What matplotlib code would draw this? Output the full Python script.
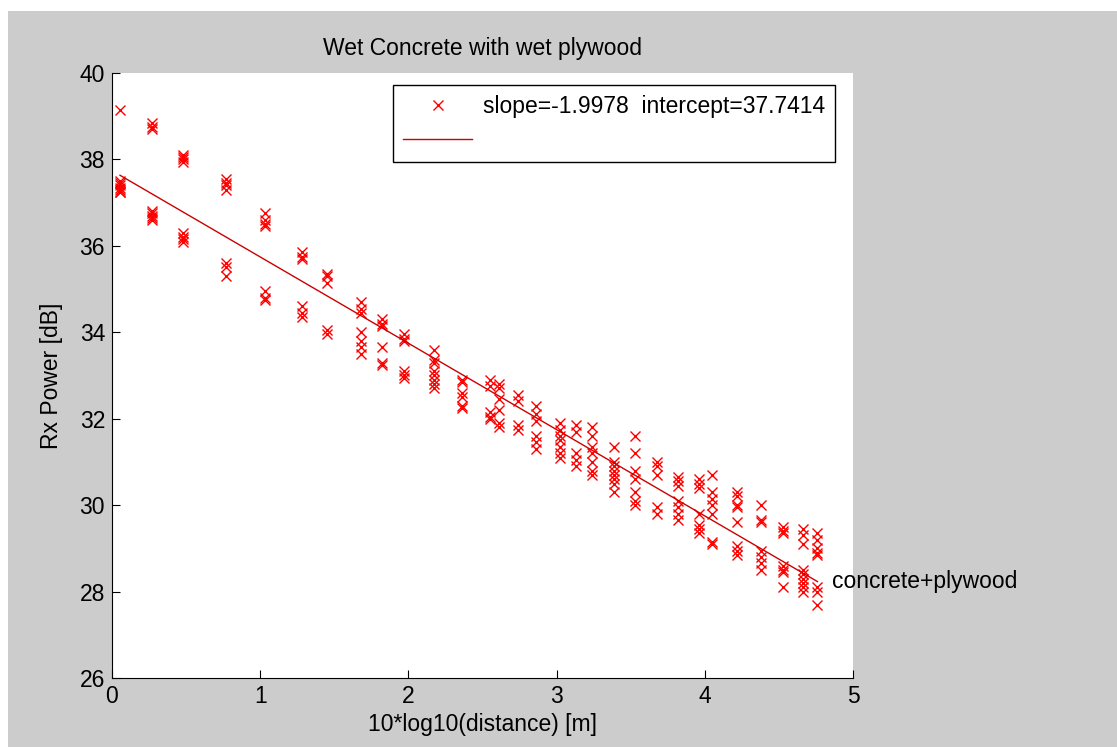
import numpy as np
import matplotlib
matplotlib.use("Agg")
import matplotlib.pyplot as plt
from matplotlib.patches import Rectangle

plt.rcParams['font.family'] = ['Liberation Sans', 'DejaVu Sans']

# distance columns (10*log10(d)) and the repeated Rx power readings at each
dist_x = [0.054, 0.27, 0.48, 0.77, 1.03, 1.28, 1.45, 1.68, 1.82, 1.97,
          2.17, 2.36, 2.55, 2.61, 2.74, 2.86, 3.02, 3.13, 3.24, 3.39,
          3.53, 3.68, 3.82, 3.96, 4.05, 4.22, 4.38, 4.53, 4.66, 4.76]
rx_power = [
    [39.15, 37.5, 37.45, 37.4, 37.35, 37.3, 37.25, 37.25],
    [38.85, 38.75, 38.7, 36.8, 36.75, 36.7, 36.65, 36.6],
    [38.1, 38.05, 38.0, 37.95, 36.3, 36.2, 36.15, 36.1],
    [37.55, 37.45, 37.4, 37.3, 35.6, 35.5, 35.3],
    [36.75, 36.6, 36.5, 36.45, 34.95, 34.8, 34.75],
    [35.85, 35.75, 35.7, 34.6, 34.45, 34.35],
    [35.35, 35.3, 35.15, 34.05, 33.95],
    [34.7, 34.55, 34.45, 34.0, 33.8, 33.65, 33.5],
    [34.3, 34.2, 34.15, 33.65, 33.3, 33.25],
    [33.95, 33.85, 33.8, 33.1, 33.0, 32.95],
    [33.6, 33.35, 33.3, 33.1, 33.0, 32.9, 32.8, 32.7],
    [32.9, 32.85, 32.6, 32.5, 32.3, 32.25],
    [32.9, 32.75, 32.15, 32.05, 32.0],
    [32.8, 32.7, 32.45, 32.2, 31.9, 31.8],
    [32.55, 32.4, 31.85, 31.75],
    [32.3, 32.1, 31.95, 31.6, 31.45, 31.3],
    [31.9, 31.75, 31.6, 31.5, 31.35, 31.2, 31.1],
    [31.85, 31.7, 31.2, 31.05, 30.9],
    [31.8, 31.6, 31.35, 31.2, 31.0, 30.8, 30.7],
    [31.35, 31.0, 30.9, 30.8, 30.7, 30.6, 30.5, 30.3],
    [31.6, 31.2, 30.8, 30.6, 30.3, 30.1, 30.0],
    [31.0, 30.9, 30.7, 29.95, 29.8],
    [30.65, 30.55, 30.45, 30.1, 29.95, 29.8, 29.65],
    [30.6, 30.5, 30.4, 29.8, 29.55, 29.45, 29.35],
    [30.7, 30.3, 30.15, 30.0, 29.8, 29.15, 29.1],
    [30.3, 30.2, 30.0, 29.95, 29.6, 29.05, 28.95, 28.85],
    [30.0, 29.65, 29.6, 28.95, 28.8, 28.65, 28.5],
    [29.5, 29.4, 29.35, 28.6, 28.5, 28.45, 28.1],
    [29.45, 29.3, 29.1, 28.5, 28.4, 28.3, 28.2, 28.1, 28.0],
    [29.35, 29.2, 29.0, 28.9, 28.85, 28.1, 28.0, 27.7],
]
slope = -1.9978
intercept = 37.7414

x = np.repeat(dist_x, [len(c) for c in rx_power])
y = np.concatenate(rx_power)
xfit = np.array([min(dist_x), max(dist_x)])
yfit = intercept + slope * xfit

fs = 16.5

fig = plt.figure(figsize=(11.17, 7.47), dpi=100, facecolor='white')
# matlab grey figure background (white strip at top/left as in the screenshot)
fig.patches.append(Rectangle((8/1117, 0), 1 - 8/1117, (747 - 11)/747,
                             transform=fig.transFigure, facecolor='#cccccc',
                             edgecolor='none', zorder=-10))

ax = fig.add_axes([112/1117, 69/747, 741/1117, 605/747])
ax.set_facecolor('white')

pts, = ax.plot(x, y, 'x', color='#ff0000', markersize=6.5, markeredgewidth=1.0)
ln, = ax.plot(xfit, yfit, '-', color='#cc0000', linewidth=1.0)

ax.set_xlim(0, 5)
ax.set_ylim(26, 40)
ax.set_xticks(range(0, 6))
ax.set_yticks(range(26, 41, 2))
ax.tick_params(direction='in', length=6, labelsize=fs, colors='black', pad=5)
for s in ['top', 'right']:
    ax.spines[s].set_visible(False)

ax.set_title('Wet Concrete with wet plywood', fontsize=fs, pad=13)
ax.set_xlabel('10*log10(distance) [m]', fontsize=fs, labelpad=4)
ax.set_ylabel('Rx Power [dB]', fontsize=fs, labelpad=12)

ax.text(4.86, 28.24, 'concrete+plywood', fontsize=fs, va='center', ha='left',
        clip_on=False)

leg = ax.legend([pts, ln], ['slope=-1.9978  intercept=37.7414', ''],
                loc='upper right', bbox_to_anchor=(0.9757, 0.980),
                fontsize=fs, numpoints=1, handlelength=3.0, handletextpad=0.45,
                labelspacing=0.45, borderpad=0.45, borderaxespad=0,
                fancybox=False, framealpha=1, edgecolor='black')
leg.get_frame().set_linewidth(1.0)

fig.savefig('out.png', dpi=100, facecolor=fig.get_facecolor())
